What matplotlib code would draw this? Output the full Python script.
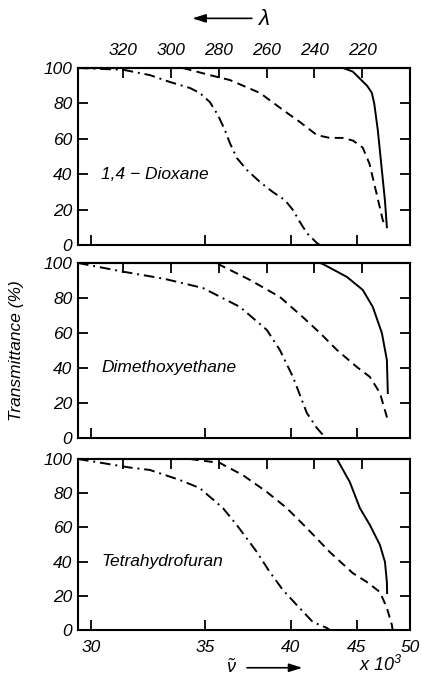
import numpy as np
import matplotlib
matplotlib.use("Agg")
import matplotlib.pyplot as plt

plt.rcParams['font.family'] = ['Liberation Sans', 'DejaVu Sans']
plt.rcParams['mathtext.fontset'] = 'custom'
plt.rcParams['mathtext.it'] = 'Liberation Sans:italic'
plt.rcParams['mathtext.rm'] = 'Liberation Sans:italic'

# wavelength (nm) / transmittance (%)
solvents = ['1,4 \u2212 Dioxane', 'Dimethoxyethane', 'Tetrahydrofuran']

dioxane_dd_lam = [339, 320, 308.9, 300.5, 292.1, 288, 283.8, 280.4, 277.5, 275.4, 272.5, 268.3,
                  262.8, 257.4, 252.4, 249, 246.1, 243.2, 239, 237.7]
dioxane_dd_T = [100, 99, 96, 92.1, 88.7, 85.9, 80.8, 73.4, 65, 57.6, 49.2, 42.4,
                35.6, 29.9, 25.4, 19.8, 13, 6.8, 1.1, 0]
dioxane_da_lam = [295.1, 283.8, 275.4, 262.8, 253.2, 246.1, 239, 233.6, 228, 223.9, 219.8,
                  217, 214, 211.4, 210.5]
dioxane_da_T = [100, 96, 93.2, 85.9, 76.3, 69.5, 62.1, 60.5, 60.5, 59, 55, 46, 29, 14, 11]
dioxane_so_lam = [228, 224, 221, 218, 216, 215, 213.5, 212, 210.5, 209.7]
dioxane_so_T = [100, 98, 94, 90, 86, 80, 65, 45, 25, 10]

dme_dd_lam = [339, 320, 303, 286.7, 271.2, 259.9, 254.5, 249, 243.2, 239, 235.7]
dme_dd_T = [100, 95, 91, 85.7, 74.9, 61.7, 50.3, 34.9, 14.3, 5.7, 0.6]
dme_da_lam = [280.4, 279.6, 267, 254.5, 244.9, 237.7, 230.6, 222.3, 216.8, 212.6, 209.7, 209.3]
dme_da_T = [100, 98.9, 90.3, 80.6, 69.1, 60, 50.3, 40.6, 34.9, 25.7, 12, 9]
dme_so_lam = [237.7, 236.5, 226.4, 219.8, 215.6, 211.8, 209.7, 209.3]
dme_so_T = [100, 99.4, 92, 84.6, 74.9, 60, 44.6, 25.7]

thf_dd_lam = [339, 317.2, 308.9, 296.3, 288, 278.3, 272.5, 264.1, 258.7, 253.2, 247.4, 240.7,
              234.8, 233.6]
thf_dd_T = [100, 95, 93.6, 87.7, 83, 71.3, 61.4, 45.6, 33.9, 23.4, 14.6, 4.7, 1.2, 0]
thf_da_lam = [292.1, 279.6, 270, 259.9, 251.6, 243.2, 233.6, 224, 218.1, 212.6, 209.7, 207.6, 207.3]
thf_da_T = [100, 97.7, 90.6, 80.7, 71.3, 59.6, 45.6, 33.3, 28.1, 22.2, 12.9, 2.9, 0]
thf_so_lam = [230.6, 225.2, 221, 216.8, 212.6, 210.5, 209.7, 209.6]
thf_so_T = [100, 86.5, 71.3, 61.4, 49.7, 39.8, 28, 21.6]

lam_ticks = [320, 300, 280, 260, 240, 220]
nu_ticks = [30, 35, 40, 45, 50]  # x 10^3 cm^-1
y_ticks = [0, 20, 40, 60, 80, 100]

panels = [
    (dioxane_dd_lam, dioxane_dd_T, dioxane_da_lam, dioxane_da_T, dioxane_so_lam, dioxane_so_T),
    (dme_dd_lam, dme_dd_T, dme_da_lam, dme_da_T, dme_so_lam, dme_so_T),
    (thf_dd_lam, thf_dd_T, thf_da_lam, thf_da_T, thf_so_lam, thf_so_T),
]

fig = plt.figure(figsize=(4.21, 6.8), dpi=100)
boxes = [(0.185, 0.6397, 0.789, 0.2603),
         (0.185, 0.3559, 0.789, 0.2574),
         (0.185, 0.0735, 0.789, 0.2515)]

lw = 1.4
for i, (box, data) in enumerate(zip(boxes, panels)):
    ax = fig.add_axes(box)
    dd_l, dd_t, da_l, da_t, so_l, so_t = data
    ax.plot(dd_l, dd_t, color='black', lw=lw, dashes=(5.5, 2.5, 1, 2.5))
    ax.plot(da_l, da_t, color='black', lw=lw, dashes=(4.5, 2.8))
    ax.plot(so_l, so_t, color='black', lw=lw)

    ax.set_xlim(339, 200)
    ax.set_ylim(0, 100)
    for s in ax.spines.values():
        s.set_linewidth(1.5)

    ax.set_yticks(y_ticks)
    ax.set_yticklabels([str(v) for v in y_ticks], fontsize=12.5, style='italic')
    ax.tick_params(axis='y', direction='in', length=7, width=1.3, right=True, pad=4)

    ax.set_xticks([1e4 / v for v in nu_ticks])
    if i == 2:
        ax.set_xticklabels([str(v) for v in nu_ticks], fontsize=12.5, style='italic')
    else:
        ax.set_xticklabels([])
    ax.tick_params(axis='x', direction='in', length=7, width=1.3, pad=7)

    top = ax.secondary_xaxis('top')
    top.set_xticks(lam_ticks)
    if i == 0:
        top.set_xticklabels([str(v) for v in lam_ticks], fontsize=12.5, style='italic')
    else:
        top.set_xticklabels([])
    top.tick_params(direction='in', length=7, width=1.3, pad=7)
    top.spines['top'].set_linewidth(1.5)

    ax.text(0.07, 0.4, solvents[i], transform=ax.transAxes, fontsize=12.5,
            style='italic', ha='left', va='center')

fig.text(0.04, 0.485, 'Transmittance (%)', rotation=90, fontsize=12.5,
         style='italic', ha='center', va='center')

# wavelength arrow at the top
fig.text(0.625, 0.972, '\u03bb', fontsize=16, style='italic', ha='center', va='center')
fig.add_artist(matplotlib.patches.FancyArrowPatch((0.605, 0.973), (0.45, 0.973),
               transform=fig.transFigure, arrowstyle='-|>,head_length=0.8,head_width=0.25',
               color='black', lw=1.2, mutation_scale=10))

# wavenumber arrow at the bottom
fig.text(0.55, 0.018, r'$\tilde{\nu}$', fontsize=13, ha='center', va='center')
fig.add_artist(matplotlib.patches.FancyArrowPatch((0.58, 0.018), (0.725, 0.018),
               transform=fig.transFigure, arrowstyle='-|>,head_length=0.8,head_width=0.25',
               color='black', lw=1.2, mutation_scale=10))
fig.text(0.905, 0.022, r'x 10$^{3}$', fontsize=13, style='italic', ha='center', va='center')

fig.savefig('out.png', dpi=100)
